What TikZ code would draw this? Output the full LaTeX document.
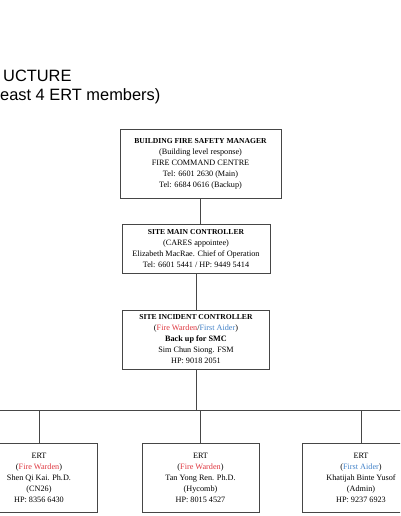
\documentclass[tikz,border=0pt]{standalone}
\usepackage{fontspec}
\setmainfont{Liberation Serif}
\newfontfamily\headfont{Liberation Sans}
\usepackage{xcolor}
\usepackage{tikz}
\definecolor{wardenred}{RGB}{222, 55, 64}
\definecolor{aiderblue}{RGB}{66, 130, 200}
\definecolor{linegray}{RGB}{70, 70, 70}

\newcommand{\boxtitle}[1]{{\fontsize{7.6}{11}\selectfont\textbf{#1}}}

\begin{document}
\begin{tikzpicture}[x=1pt, y=-1pt,
    orgbox/.style={draw=linegray, line width=0.8pt, align=center, inner sep=0pt,
      font=\fontsize{8.2}{11}\selectfont},
    ertbox/.style={orgbox, minimum width=117pt, minimum height=69pt},
    link/.style={draw=linegray, line width=0.8pt}]
    \clip (0,0) rectangle (400,516);

    %% heading, cut off at the left edge
    \node[anchor=base west, inner sep=0pt, font=\headfont\fontsize{16.4}{19}\selectfont]
      (head1) at (3,82) {UCTURE};
    \node[anchor=base west, inner sep=0pt, font=\headfont\fontsize{16.4}{19}\selectfont]
      (head2) at (0,101) {east 4 ERT members)};

    %% chain of controllers
    \node[orgbox, minimum width=161pt, minimum height=69pt] (bfsm) at (200.5,163.5)
      {\boxtitle{BUILDING FIRE SAFETY MANAGER}\\(Building level response)\\
       FIRE COMMAND CENTRE\\Tel: 6601 2630 (Main)\\Tel: 6684 0616 (Backup)};
    \node[orgbox, minimum width=148pt, minimum height=49pt] (smc) at (196,248.5)
      {\boxtitle{SITE MAIN CONTROLLER}\\(CARES appointee)\\
       Elizabeth MacRae. Chief of Operation\\Tel: 6601 5441 / HP: 9449 5414};
    \node[orgbox, minimum width=147pt, minimum height=59pt] (sic) at (196,339.5)
      {\boxtitle{SITE INCIDENT CONTROLLER}\\
       (\textcolor{wardenred}{Fire Warden}/\textcolor{aiderblue}{First Aider})\\
       \textbf{Back up for SMC}\\Sim Chun Siong. FSM\\HP: 9018 2051};

    %% ERT members
    \node[ertbox] (ert1) at (39,477.5)
      {ERT\\(\textcolor{wardenred}{Fire Warden})\\Shen Qi Kai. Ph.D.\\(CN26)\\HP: 8356 6430};
    \node[ertbox] (ert2) at (200.5,477.5)
      {ERT\\(\textcolor{wardenred}{Fire Warden})\\Tan Yong Ren. Ph.D.\\(Hycomb)\\HP: 8015 4527};
    \node[ertbox] (ert3) at (361,477.5)
      {ERT\\(\textcolor{aiderblue}{First Aider})\\Khatijah Binte Yusof\\(Admin)\\HP: 9237 6923};

    %% connectors
    \coordinate (busL) at (-10,410);
    \coordinate (busR) at (410,410);
    \draw[link] (bfsm.south) -- (bfsm.south |- smc.north);
    \draw[link] (smc.south) -- (smc.south |- sic.north);
    \draw[link] (sic.south) -- (sic.south |- busL);
    \draw[link] (busL) -- (busR);
    \foreach \m in {ert1,ert2,ert3}
      \draw[link] (\m.north |- busL) -- (\m.north);
\end{tikzpicture}
\end{document}
